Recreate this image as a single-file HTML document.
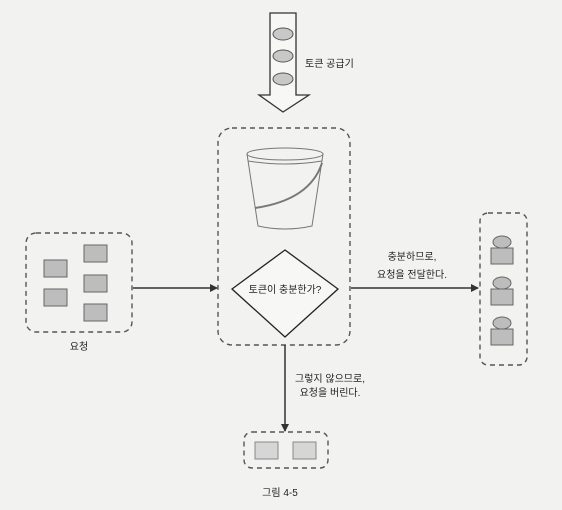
<!DOCTYPE html>
<html><head><meta charset="utf-8"><style>
html,body{margin:0;padding:0;background:#f2f2f0;}
svg{display:block}
text{font-family:"Liberation Sans","Noto Sans CJK KR",sans-serif;fill:#222;font-size:10px}
</style></head><body>
<svg width="562" height="510" viewBox="0 0 562 510" xmlns="http://www.w3.org/2000/svg">
<defs><marker id="ah" markerWidth="8" markerHeight="8" refX="7" refY="4" orient="auto" markerUnits="userSpaceOnUse"><path d="M0,0 L8,4 L0,8 z" fill="#333"/></marker></defs>
<!-- token supply arrow -->
<path d="M270,13 L296,13 L296,95 L309,95 L283,112 L259,95 L270,95 Z" fill="#f7f7f5" stroke="#333" stroke-width="1.3"/>
<g fill="#c8c8c8" stroke="#555" stroke-width="1">
<ellipse cx="283" cy="34" rx="10" ry="6"/><ellipse cx="283" cy="56" rx="10" ry="6"/><ellipse cx="283" cy="79" rx="10" ry="6"/>
</g>
<text x="305" y="67">토큰 공급기</text>
<!-- central box -->
<rect x="218" y="128" width="132" height="217" rx="14" fill="none" stroke="#555" stroke-width="1.4" stroke-dasharray="5,4"/>
<!-- bucket -->
<g fill="none" stroke="#777" stroke-width="1">
<ellipse cx="285" cy="154" rx="38" ry="6"/>
<path d="M247,154 L258,226 Q285,232 312,226 L323,154"/>
<path d="M248,161 Q285,167 322,161"/>
<path d="M322,163 Q310,200 255,208" stroke-width="2"/>
</g>
<!-- diamond -->
<path d="M285,250 L338,289 L285,337 L232,289 Z" fill="#f7f7f5" stroke="#222" stroke-width="1.3"/>
<text x="285" y="293" text-anchor="middle">토큰이 충분한가?</text>
<!-- left box -->
<rect x="26" y="233" width="106" height="99" rx="10" fill="none" stroke="#555" stroke-width="1.4" stroke-dasharray="5,4"/>
<g fill="#bdbdbd" stroke="#666" stroke-width="1">
<rect x="44" y="260" width="23" height="17"/><rect x="84" y="245" width="23" height="17"/>
<rect x="84" y="275" width="23" height="17"/><rect x="44" y="289" width="23" height="17"/>
<rect x="84" y="304" width="23" height="17"/>
</g>
<text x="79" y="350" text-anchor="middle">요청</text>
<line x1="133" y1="288" x2="217" y2="288" stroke="#333" stroke-width="1.5" marker-end="url(#ah)"/>
<!-- right -->
<line x1="351" y1="288" x2="478" y2="288" stroke="#333" stroke-width="1.5" marker-end="url(#ah)"/>
<text x="412" y="260" text-anchor="middle">충분하므로,</text>
<text x="412" y="278" text-anchor="middle">요청을 전달한다.</text>
<rect x="480" y="213" width="47" height="152" rx="8" fill="none" stroke="#555" stroke-width="1.4" stroke-dasharray="5,4"/>
<g fill="#bdbdbd" stroke="#666" stroke-width="1">
<ellipse cx="502" cy="242" rx="9" ry="6"/><rect x="491" y="248" width="22" height="16"/>
<ellipse cx="502" cy="283" rx="9" ry="6"/><rect x="491" y="289" width="22" height="16"/>
<ellipse cx="502" cy="323" rx="9" ry="6"/><rect x="491" y="329" width="22" height="16"/>
</g>
<!-- down -->
<line x1="285" y1="345" x2="285" y2="431" stroke="#333" stroke-width="1.5" marker-end="url(#ah)"/>
<text x="330" y="382" text-anchor="middle">그렇지 않으므로,</text>
<text x="330" y="396" text-anchor="middle">요청을 버린다.</text>
<rect x="244" y="432" width="84" height="36" rx="8" fill="none" stroke="#555" stroke-width="1.4" stroke-dasharray="5,4"/>
<g fill="#d6d6d6" stroke="#888" stroke-width="1">
<rect x="255" y="442" width="23" height="17"/><rect x="293" y="442" width="23" height="17"/>
</g>
<text x="280" y="496" text-anchor="middle" font-size="11">그림 4-5</text>
</svg>
</body></html>
